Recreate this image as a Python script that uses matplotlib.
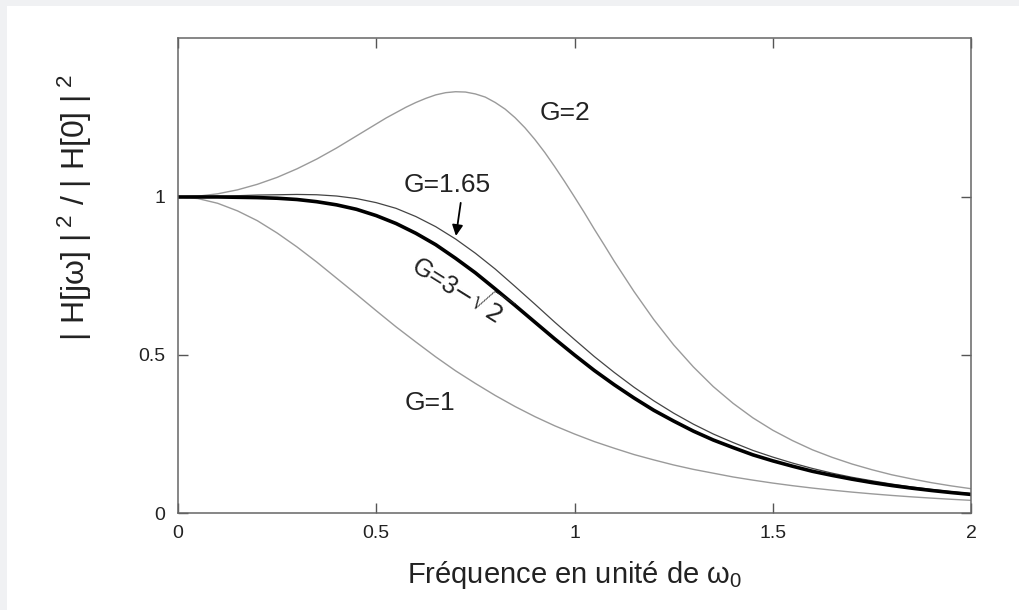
import matplotlib.pyplot as plt
from matplotlib.patches import Rectangle

plt.rcParams['font.family'] = ['Liberation Sans', 'DejaVu Sans']
plt.rcParams['mathtext.fontset'] = 'custom'
plt.rcParams['mathtext.rm'] = 'Liberation Sans'
plt.rcParams['mathtext.it'] = 'Liberation Sans'
plt.rcParams['mathtext.sf'] = 'Liberation Sans'

# frequence en unite de w0
freq = [0.0, 0.05, 0.1, 0.15, 0.2, 0.25, 0.3, 0.35, 0.4, 0.45,
        0.5, 0.55, 0.6, 0.65, 0.7, 0.75, 0.8, 0.85, 0.9, 0.95,
        1.0, 1.05, 1.1, 1.15, 1.2, 1.25, 1.3, 1.35, 1.4, 1.45,
        1.5, 1.55, 1.6, 1.65, 1.7, 1.75, 1.8, 1.85, 1.9, 1.95, 2.0]

g1 = [1.0, 0.995, 0.980, 0.956, 0.925, 0.886, 0.842, 0.794, 0.743, 0.692,
      0.640, 0.589, 0.541, 0.494, 0.450, 0.410, 0.372, 0.337, 0.305, 0.276,
      0.250, 0.226, 0.205, 0.185, 0.168, 0.152, 0.138, 0.126, 0.114, 0.104,
      0.0947, 0.0864, 0.0789, 0.0722, 0.0661, 0.0606, 0.0556, 0.0511, 0.0471, 0.0434, 0.040]

g_butter = [1.0, 1.0, 1.0, 0.999, 0.998, 0.996, 0.992, 0.985, 0.975, 0.961,
            0.941, 0.916, 0.885, 0.849, 0.806, 0.760, 0.709, 0.657, 0.604, 0.551,
            0.500, 0.451, 0.406, 0.364, 0.325, 0.291, 0.259, 0.231, 0.207, 0.184,
            0.165, 0.148, 0.132, 0.119, 0.107, 0.0963, 0.0870, 0.0787, 0.0713, 0.0647, 0.0588]

g165 = [1.0, 1.000, 1.002, 1.004, 1.006, 1.007, 1.008, 1.007, 1.003, 0.995,
        0.982, 0.964, 0.938, 0.906, 0.867, 0.822, 0.772, 0.717, 0.661, 0.604,
        0.549, 0.495, 0.445, 0.398, 0.355, 0.316, 0.281, 0.250, 0.223, 0.198,
        0.177, 0.158, 0.141, 0.126, 0.113, 0.102, 0.0916, 0.0826, 0.0747, 0.0676, 0.0614]

# G=2 read a bit finer around the peak
freq2 = [0.0, 0.05, 0.1, 0.15, 0.2, 0.25, 0.3, 0.35, 0.4, 0.425, 0.45, 0.475,
         0.5, 0.525, 0.55, 0.575, 0.6, 0.625, 0.65, 0.675, 0.7, 0.725, 0.75, 0.775,
         0.8, 0.825, 0.85, 0.875, 0.9, 0.925, 0.95, 0.975, 1.0, 1.025, 1.05, 1.075,
         1.1, 1.15, 1.2, 1.25, 1.3, 1.35, 1.4, 1.45,
         1.5, 1.55, 1.6, 1.65, 1.7, 1.75, 1.8, 1.85, 1.9, 1.95, 2.0]
g2 = [1.0, 1.0025, 1.010, 1.0225, 1.040, 1.062, 1.089, 1.120, 1.155, 1.174, 1.193, 1.212,
      1.231, 1.250, 1.267, 1.284, 1.299, 1.312, 1.323, 1.330, 1.333, 1.332, 1.326, 1.316,
      1.299, 1.278, 1.251, 1.219, 1.182, 1.141, 1.096, 1.049, 1.000, 0.950, 0.898, 0.848,
      0.797, 0.701, 0.612, 0.532, 0.462, 0.400, 0.347, 0.301,
      0.262, 0.229, 0.200, 0.176, 0.155, 0.137, 0.121, 0.108, 0.0960, 0.0858, 0.0769]

xticks = [0, 0.5, 1, 1.5, 2]
yticks = [0, 0.5, 1]

fig = plt.figure(figsize=(10.19, 6.10), dpi=100, facecolor='#f0f1f3')
fig.patches.append(Rectangle((7 / 1019, 0), 1, 1 - 6 / 610, transform=fig.transFigure,
                             facecolor='white', edgecolor='none', zorder=-5))
ax = fig.add_axes([178 / 1019, 1 - 513 / 610, 793 / 1019, 475 / 610])
ax.set_zorder(2)

ax.plot(freq, g1, color='#9a9a9a', lw=1.0)
ax.plot(freq2, g2, color='#9a9a9a', lw=1.0)
ax.plot(freq, g165, color='#444444', lw=0.9)
ax.plot(freq, g_butter, color='black', lw=2.6)

ax.set_xlim(0, 2)
ax.set_ylim(0, 1.503)
ax.set_xticks(xticks)
ax.set_xticklabels(['0', '0.5', '1', '1.5', '2'])
ax.set_yticks(yticks)
ax.set_yticklabels(['0', '0.5', '1'])
ax.tick_params(direction='in', length=7.5, width=1, color='#555555', labelsize=14,
               top=True, right=True, labelcolor='#222222')
ax.tick_params(axis='x', pad=9)
ax.tick_params(axis='y', pad=9)
for s in ax.spines.values():
    s.set_color('#666666')
    s.set_linewidth(1.1)

ax.text(0.976, 1.266, 'G=2', fontsize=19, ha='center', va='center', color='#222222')
ax.text(0.636, 0.348, 'G=1', fontsize=19, ha='center', va='center', color='#222222')
ax.text(0.678, 1.038, 'G=1.65', fontsize=19, ha='center', va='center', color='#222222')
ax.annotate('', xy=(0.70, 0.868), xytext=(0.714, 0.99),
            arrowprops=dict(arrowstyle='-|>', color='black', lw=1.3, mutation_scale=16))
ax.text(0.712, 0.708, r'G=3$-\sqrt{2}$', fontsize=18, ha='center', va='center',
        rotation=-32, rotation_mode='anchor', color='#222222', math_fontfamily='dejavusans')

ax.set_xlabel(r'Fréquence en unité de $\omega_0$', fontsize=21, color='#222222', labelpad=12)
fig.text(75 / 1019, 1 - 208 / 610, r'| H[j$\omega$] |$^{\ 2}$ / | H[0] |$^{\ 2}$',
         rotation=90, fontsize=23, ha='center', va='center', color='#222222')

fig.savefig('out.png', dpi=100, facecolor=fig.get_facecolor())
